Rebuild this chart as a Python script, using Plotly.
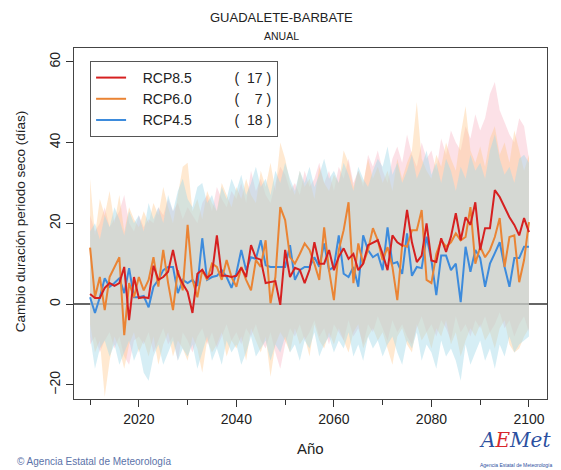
import plotly.graph_objects as go

####################################### DATA
years = list(range(2010, 2101))

rcp85 = [2.5, 1.5, 1.5, 4, 5.2, 4.5, 5.2, 9.2, -4, 6.7,
         1.5, 1.7, 1.5, 9.5, 6, 6.7, 8, 13.4, 7.5, 5,
         3, -2.2, 7.5, 8.5, 6.5, 7.5, 17, 7, 7, 6.7,
         7, 9, 6.7, 14.6, 11.4, 11, 5.2, 5.5, 5.7, -0.2,
         13.4, 6.7, 9, 8.5, 5.2, 8.5, 15.3, 10, 10, 13.4,
         8.4, 11.7, 13.8, 11.2, 12.4, 8.4, 10, 14.6, 15.3, 15.8,
         12.4, 8.4, 17, 15.3, 14.5, 23.3, 15.3, 10.4, 12, 20,
         10.8, 10.4, 16.3, 12.9, 16.7, 22.5, 15.8, 21.5, 19.6, 25.2,
         13.4, 18.8, 18.8, 28.2, 26.5, 24, 21.5, 19.6, 17, 21.3,
         17.8]
rcp60 = [14, 1.7, 6.7, -1.5, 6.7, 9.2, 11.6, -7.7, 5.2, 1.7,
         6.7, 3.4, 6, 11.6, 4.3, 13.4, 5.2, -1.5, 8.4, 3.4,
         19.6, 6, 1.7, 8.4, 6, 10, 9.2, 6, 10.9, 6.7,
         4.3, 9.2, 6, 3.4, 10.9, 9.2, 15.8, 0.2, 6.7, 24,
         20.8, 11.6, 10, 12.4, 15, 13.4, 10, 6, 19, 8.4,
         1, 13.4, 18.3, 25.2, 5.2, 15, 10, 13.4, 18.8, 15.8,
         10.9, 14.1, 9.2, 1, 14.6, 14.2, 18.3, 18.3, 23.3, 6,
         5.2, 12.4, 15.8, 14.2, 15.3, 17.5, 15.8, 16.6, 24, 10,
         14.2, 11.6, 13.4, 16.6, 21.3, 9.2, 16.6, 17, 5.4, 10.9,
         20.3]
rcp45 = [1.7, -2.2, 1.7, 6.4, 4.3, 5.2, 6.4, 2.7, 8.9, 1.7,
         1.7, 2, -0.8, 4.3, 6, 8.4, 9.2, 9.2, 2.7, 6,
         5.2, 6, 4.5, 16.3, 6, 6.7, 7, 8.4, 6.7, 4,
         7.7, 13.4, 8.4, 11.6, 11.2, 15.8, 9.6, 9.2, 9.2, 9.2,
         9.2, 14.6, 6, 8.4, 9.2, 9.2, 11.6, 9.2, 15, 8.4,
         9.2, 17, 7.5, 6.7, 9.2, 4.3, 17, 13.4, 11.6, 12.4,
         8.4, 19, 10, 10.4, 7.5, 17.5, 7, 9.2, 8.9, 16.7,
         10.8, 2.2, 12, 12, 8.4, 10, 0.5, 14.2, 8, 13.4,
         11.4, 4.3, 10, 12.6, 15.3, 9.2, 4.3, 11.4, 11.4, 14.2,
         14.2]

rcp85_hi = [22, 18, 20, 24, 19, 21, 23, 27, 20, 18,
            22, 19, 21, 20, 24, 22, 26, 23, 25, 21,
            24, 22, 20, 25, 27, 23, 29, 26, 24, 28,
            26, 30, 25, 33, 28, 31, 27, 25, 30, 34,
            32, 28, 30, 27, 33, 29, 31, 35, 30, 33,
            28, 34, 31, 36, 30, 33, 29, 37, 34, 38,
            33, 30, 36, 39, 35, 42, 37, 34, 40, 36,
            38, 33, 41, 37, 43, 40, 38, 44, 41, 47,
            43, 46, 52, 55, 48, 45, 42, 40, 46, 44,
            36]
rcp85_lo = [-10, -8, -12, -9, -7, -11, -8, -13, -15, -9,
            -8, -10, -7, -12, -9, -6, -10, -8, -14, -7,
            -9, -12, -8, -6, -10, -7, -11, -8, -5, -9,
            -7, -10, -6, -8, -5, -9, -11, -7, -12, -16,
            -10, -6, -8, -5, -9, -7, -4, -8, -6, -10,
            -5, -7, -9, -4, -8, -6, -10, -5, -7, -3,
            -6, -9, -4, -7, -5, -8, -10, -6, -3, -7,
            -5, -8, -4, -6, -9, -3, -7, -5, -8, -4,
            -6, -3, -7, -5, -2, -6, -4, -8, -5, -3,
            -7]
rcp60_hi = [31, 17, 26, 22, 28, 20, 27, 18, 24, 21,
            19, 23, 20, 25, 22, 29, 24, 20, 27, 34,
            35, 23, 26, 21, 28, 25, 23, 30, 27, 24,
            29, 26, 31, 27, 25, 33, 29, 35, 28, 40,
            36, 30, 27, 33, 29, 31, 26, 34, 30, 28,
            32, 30, 38, 35, 29, 33, 30, 36, 31, 34,
            30, 33, 28, 36, 31, 35, 38, 50, 36, 33,
            31, 37, 34, 40, 36, 33, 42, 49, 38, 35,
            39, 34, 41, 44, 37, 40, 35, 43, 38, 33,
            37]
rcp60_lo = [-5, -12, -9, -23, -14, -8, -11, -16, -10, -7,
            -12, -9, -13, -8, -15, -10, -7, -13, -9, -11,
            -14, -8, -11, -17, -9, -12, -10, -7, -13, -9,
            -11, -8, -14, -6, -9, -12, -8, -18, -10, -7,
            -9, -12, -6, -10, -8, -13, -5, -9, -11, -7,
            -10, -6, -9, -12, -7, -5, -11, -8, -6, -9,
            -7, -11, -15, -8, -6, -10, -12, -5, -9, -7,
            -11, -6, -8, -4, -10, -7, -13, -9, -6, -8,
            -5, -9, -7, -11, -6, -4, -10, -12, -11, -8,
            -6]
rcp45_hi = [18, 20, 16, 22, 19, 24, 21, 17, 23, 20,
            22, 18, 25, 21, 24, 20, 27, 23, 28, 31,
            26, 24, 29, 30, 25, 27, 23, 29, 26, 31,
            28, 32, 27, 30, 34, 29, 31, 27, 33, 30,
            35, 31, 28, 33, 30, 34, 29, 32, 36, 31,
            33, 30, 35, 32, 28, 34, 31, 29, 33, 36,
            34, 39, 32, 35, 30, 33, 37, 31, 34, 38,
            32, 35, 30, 36, 33, 28, 34, 31, 37, 33,
            35, 31, 38, 42, 36, 32, 34, 30, 36, 37,
            35]
rcp45_lo = [-8, -16, -11, -9, -13, -10, -15, -12, -9, -14,
            -11, -17, -19, -13, -10, -15, -12, -9, -14, -11,
            -13, -10, -16, -12, -8, -14, -11, -15, -9, -12,
            -10, -15, -12, -8, -13, -11, -9, -14, -10, -12,
            -8, -12, -10, -14, -9, -11, -7, -13, -10, -8,
            -12, -9, -11, -7, -13, -10, -14, -8, -11, -9,
            -13, -10, -8, -12, -15, -9, -11, -7, -14, -10,
            -12, -16, -9, -13, -11, -14, -19, -10, -15, -12,
            -9, -14, -11, -16, -10, -13, -8, -12, -10, -9,
            -8]

names = ["RCP8.5", "RCP6.0", "RCP4.5"]
counts = [17, 7, 18]

####################################### VISUALIZATION
font_name = "Liberation Sans, Arial, sans-serif"
nb = "\u00a0"

series = [
    # mean, hi, lo, line colour, band colour
    (rcp85, rcp85_hi, rcp85_lo, "#d62020", "rgba(246,166,186,0.34)"),
    (rcp60, rcp60_hi, rcp60_lo, "#ea8434", "rgba(254,200,140,0.40)"),
    (rcp45, rcp45_hi, rcp45_lo, "#3d8bdc", "rgba(165,218,232,0.45)"),
]

fig = go.Figure()

# shaded ranges first
for mean, hi, lo, lc, bc in series:
    fig.add_trace(go.Scatter(
        x=years + years[::-1],
        y=hi + lo[::-1],
        fill="toself",
        fillcolor=bc,
        line=dict(width=0),
        mode="lines",
        hoverinfo="skip",
        showlegend=False,
    ))

# legend labels with the model count in brackets
def label(name, n):
    num = f"{n:>2}".replace(" ", nb * 2)
    return f"{nb * 3}{name}{nb * 11}({nb * 2}{num}{nb})"

# mean lines, red drawn last so it sits on top
for i in reversed(range(len(series))):
    mean, hi, lo, lc, bc = series[i]
    fig.add_trace(go.Scatter(
        x=years,
        y=mean,
        mode="lines",
        name=label(names[i], counts[i]),
        legendrank=i + 1,
        line=dict(color=lc, width=2),
    ))

# the page body adds an 8px offset, so the figure is 8px smaller than the window
fig.update_layout(
    width=553,
    height=462,
    margin=dict(l=66, r=14, t=40, b=71, autoexpand=False),
    paper_bgcolor="white",
    plot_bgcolor="white",
    font=dict(family=font_name, size=14, color="#222"),
    legend=dict(
        x=0.034, y=0.963,
        xanchor="left", yanchor="top",
        bordercolor="#555", borderwidth=1,
        bgcolor="white",
        font=dict(size=14, color="#222"),
        tracegroupgap=0,
        itemwidth=30,
    ),
    xaxis=dict(
        range=[2006.7, 2103.7],
        tickvals=[2020, 2040, 2060, 2080, 2100],
        ticks="outside", ticklen=7, tickcolor="#333",
        minor=dict(tickvals=[2010, 2030, 2050, 2070, 2090], ticks="outside",
                   ticklen=5, tickcolor="#333"),
        showgrid=False, zeroline=False, automargin=False,
        showline=True, linecolor="#444", linewidth=1, mirror=True,
        tickfont=dict(size=14),
    ),
    yaxis=dict(
        range=[-23.5, 63.4],
        tickvals=[-20, 0, 20, 40, 60],
        tickangle=-90,
        ticks="outside", ticklen=7, tickcolor="#333",
        showgrid=False, automargin=False,
        zeroline=True, zerolinecolor="#666", zerolinewidth=1.5,
        showline=True, linecolor="#444", linewidth=1, mirror=True,
        tickfont=dict(size=14),
    ),
)

def note(text, x, y, size, color="#222", **kw):
    fig.add_annotation(text=text, xref="paper", yref="paper", x=x, y=y,
                       xanchor=kw.pop("xanchor", "center"), yanchor="middle",
                       showarrow=False, font=dict(size=size, color=color,
                                                  **kw.pop("font", {})), **kw)

note("GUADALETE-BARBATE", 0.438, 1.0855, 13)
note("ANUAL", 0.438, 1.034, 10.5)
note("Cambio duración periodo seco (días)", -0.114, 0.504, 13.5, textangle=-90)
note("Año", 0.499, -0.142, 15)
note("© Agencia Estatal de Meteorología", -0.125, -0.179, 10, "#5b72a8", xanchor="left")
note("A<span style='color:#d8262b'>E</span>Met", 0.932, -0.117, 20, "#2b4fa0",
     font=dict(family="DejaVu Serif", style="italic"))
note("Agencia Estatal de Meteorología", 0.935, -0.188, 5, "#2b4fa0")

fig.write_html("out.html")
